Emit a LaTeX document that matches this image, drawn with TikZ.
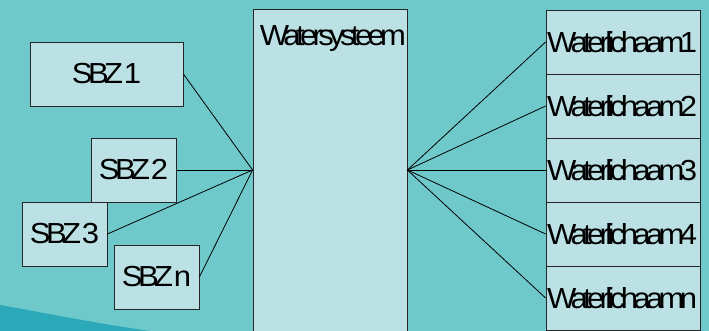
\documentclass[tikz,border=0pt]{standalone}
\usepackage{fontspec}
\setmainfont{Liberation Sans}[LetterSpace=-16, FakeStretch=1.07, WordSpace=0.2]
\usetikzlibrary{positioning}
\definecolor{bgteal}{HTML}{6FC9CB}
\definecolor{swoosh}{HTML}{2BA9B9}
\definecolor{boxfill}{HTML}{BBE1E4}
\begin{document}
\begin{tikzpicture}[x=1pt,y=-1pt,
  box/.style={draw=black!85, fill=boxfill, line width=0.8pt, inner sep=1pt,
    font=\fontsize{29}{31}\selectfont},
  sbz/.style={box, minimum width=85pt, minimum height=64pt},
  wl/.style={box, minimum width=154pt, minimum height=64pt, text width=152pt, align=left},
  link/.style={line width=0.8pt}]
  \useasboundingbox (0,0) rectangle (709,331);
  % background
  \fill[bgteal] (0,0) rectangle (709,331);
  \fill[swoosh] (0,305) .. controls (50,314) and (100,324) .. (150,331) -- (0,331) -- cycle;
  % subsystems
  \node[sbz, minimum width=153pt] (sbz1) at (106.5,74) {SBZ 1};
  \node[sbz] (sbz2) at (133.5,170) {SBZ 2};
  \node[sbz] (sbz3) at (64.5,234) {SBZ 3};
  \node[sbz] (sbzn) at (156.5,277) {SBZ n};
  % water system
  \node[box, minimum width=154pt, minimum height=322pt,
    label={[anchor=north, inner sep=0pt, xshift=3pt, yshift=-16pt, text height=21pt,
      text depth=6pt, font=\fontsize{29}{31}\selectfont]north:Watersysteem}] (ws) at (330,170) {};
  % water bodies
  \foreach \i/\lbl in {1/1, 2/2, 3/3, 4/4, 5/n}
    \node[wl] (wl\i) at (623,{42+64*(\i-1)}) {Waterlichaam\lbl};
  % links
  \foreach \s in {sbz1, sbz2, sbz3, sbzn}
    \draw[link] (\s.east) -- (ws.west);
  \foreach \i in {1,...,5}
    \draw[link] (ws.east) -- (wl\i.west);
\end{tikzpicture}
\end{document}
